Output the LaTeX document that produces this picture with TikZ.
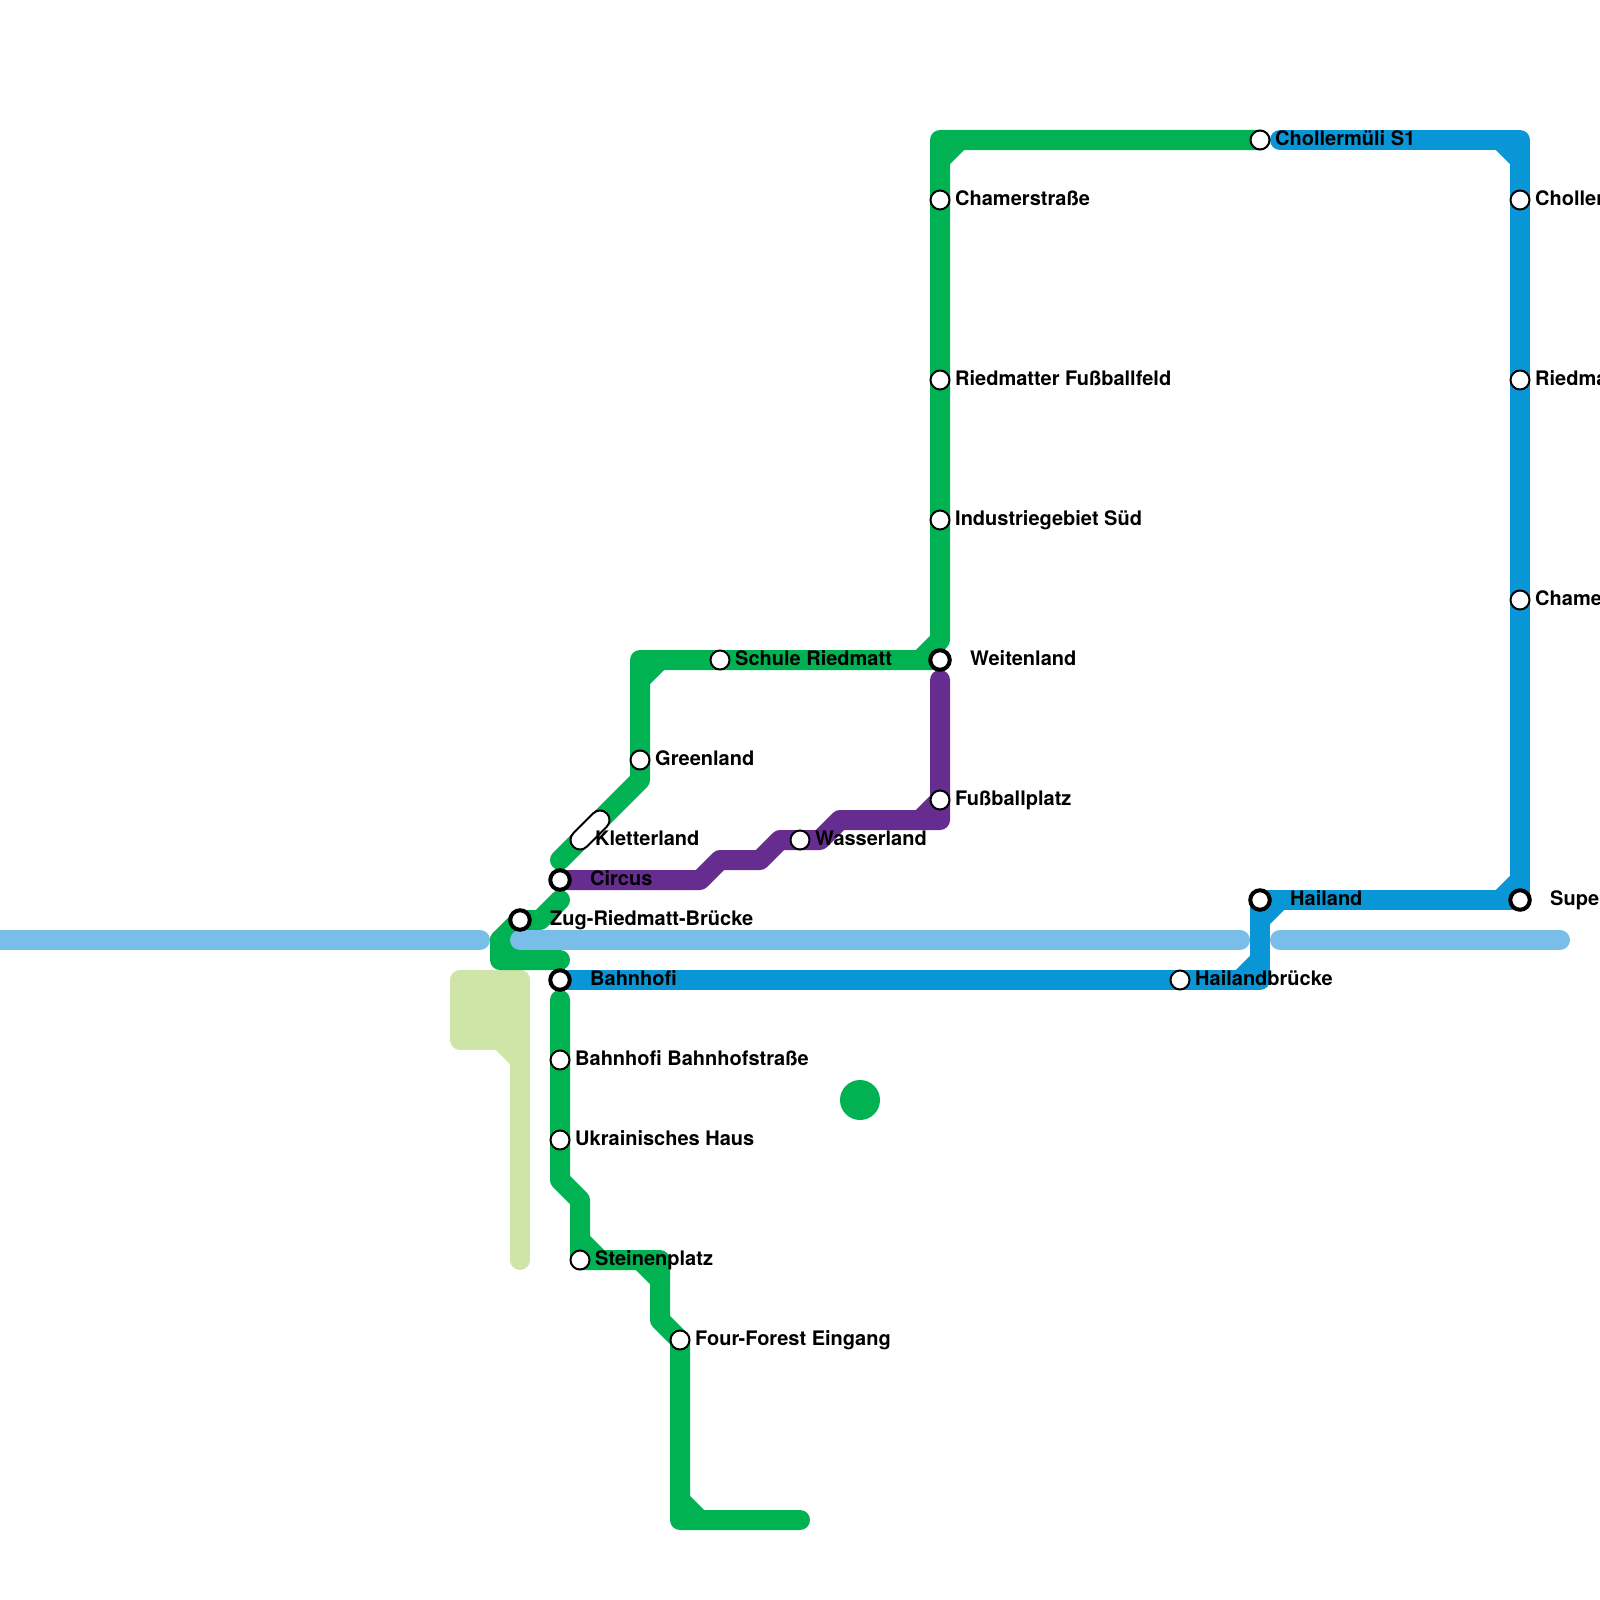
\documentclass[tikz,border=0pt]{standalone}
\usepackage{fontspec}
\setmainfont{TeX Gyre Heros}
\usetikzlibrary{backgrounds,shapes.misc}
\definecolor{greenline}{HTML}{00B251}
\definecolor{blueline}{HTML}{0896D7}
\definecolor{purpleline}{HTML}{662C90}
\definecolor{riverblue}{HTML}{79BDE9}
\definecolor{parkgreen}{HTML}{CFE4A7}
\tikzset{
  metro/.style={line width=20pt,line cap=round,line join=round},
  stopmark/.style={circle,draw=black,fill=white,inner sep=0pt,line width=2pt,minimum size=19pt},
  hubmark/.style={circle,draw=black,fill=white,inner sep=0pt,line width=4pt,minimum size=19.5pt},
  pillmark/.style={rounded rectangle,draw=black,fill=white,inner sep=0pt,line width=2pt,
    minimum width=47.3pt,minimum height=19pt,rotate=45},
  stopname/.style={anchor=base west,inner sep=0pt,yshift=-5.5pt,
    font=\bfseries\fontsize{20}{20}\selectfont}
}
\begin{document}
\begin{tikzpicture}[x=20pt,y=-20pt]
\useasboundingbox (0,0) rectangle (80,80);
\foreach \n/\x/\y/\t in {chamer/47/10/Chamerstraße,fussball/47/19/Riedmatter Fußballfeld,
  industrie/47/26/Industriegebiet Süd,fussplatz/47/40/Fußballplatz,schule/36/33/Schule Riedmatt,
  greenland/32/38/Greenland,wasser/40/42/Wasserland,bahnstr/28/53/Bahnhofi Bahnhofstraße,
  ukraine/28/57/Ukrainisches Haus,steinen/29/63/Steinenplatz,forest/34/67/Four-Forest Eingang,
  brucke/59/49/Hailandbrücke,mueli/63/7/Chollermüli S1,choller/76/10/Choller,
  riedma/76/19/Riedma,chame/76/30/Chame}
{
  \node[stopmark] (\n) at (\x,\y) {};
  \node[stopname,xshift=15pt] (\n-name) at (\n.center) {\t};
}
\foreach \n/\x/\y/\t in {weiten/47/33/Weitenland,circus/28/44/Circus,zug/26/46/Zug-Riedmatt-Brücke,
  bahnhofi/28/49/Bahnhofi,hailand/63/45/Hailand,supe/76/45/Supe}
{
  \node[hubmark] (\n) at (\x,\y) {};
  \node[stopname,xshift=30pt] (\n-name) at (\n.center) {\t};
}
\node[pillmark] (kletter) at (29.5,41.5) {};
\coordinate (kletterfoot) at (29,42);
\node[stopname,xshift=15pt] (kletter-name) at (kletterfoot) {Kletterland};
\node[circle,fill=greenline,minimum size=40pt,inner sep=0pt] (dot) at (43,55) {};
\begin{scope}[on background layer]
\draw[metro,parkgreen,fill=parkgreen] (23,49) -- (26,49) -- (26,52) -- (23,52) -- cycle;
\draw[metro,parkgreen] (26,49) -- (26,63);
\draw[metro,parkgreen] (25,52) -- (26,53);
\draw[metro,greenline] (mueli.center) -- (48,7) -- (47,7) -- (47,32) -- (46,33) -- (47,33)
  -- (weiten.center) -- (schule.center) -- (32,33) -- (greenland.center) -- (32,39) -- (28,43);
\draw[metro,greenline] (47,8) -- (48,7);
\draw[metro,greenline] (32,34) -- (33,33);
\draw[metro,greenline] (28,45) -- (27,46) -- (zug.center) -- (25,47) -- (25,48) -- (28,48);
\draw[metro,greenline] (25,47) -- (26,48);
\draw[metro,greenline] (28,50) -- (bahnstr.center) -- (ukraine.center) -- (28,59) -- (29,60)
  -- (steinen.center) -- (33,63) -- (33,66) -- (forest.center) -- (34,76) -- (40,76);
\draw[metro,greenline] (29,62) -- (30,63);
\draw[metro,greenline] (32,63) -- (33,64);
\draw[metro,greenline] (34,75) -- (35,76);
\draw[metro,purpleline] (47,34) -- (fussplatz.center) -- (47,41) -- (42,41) -- (41,42)
  -- (wasser.center) -- (39,42) -- (38,43) -- (36,43) -- (35,44) -- (circus.center);
\draw[metro,purpleline] (46,41) -- (47,40);
\draw[metro,blueline] (bahnhofi.center) -- (brucke.center) -- (63,49) -- (hailand.center)
  -- (supe.center) -- (chame.center) -- (riedma.center) -- (choller.center) -- (76,7) -- (64,7);
\draw[metro,blueline] (62,49) -- (63,48);
\draw[metro,blueline] (63,46) -- (64,45);
\draw[metro,blueline] (75,45) -- (76,44);
\draw[metro,blueline] (75,7) -- (76,8);
\draw[metro,riverblue] (0,47) -- (24,47);
\draw[metro,riverblue] (26,47) -- (62,47);
\draw[metro,riverblue] (64,47) -- (78,47);
\end{scope}
\end{tikzpicture}
\end{document}
